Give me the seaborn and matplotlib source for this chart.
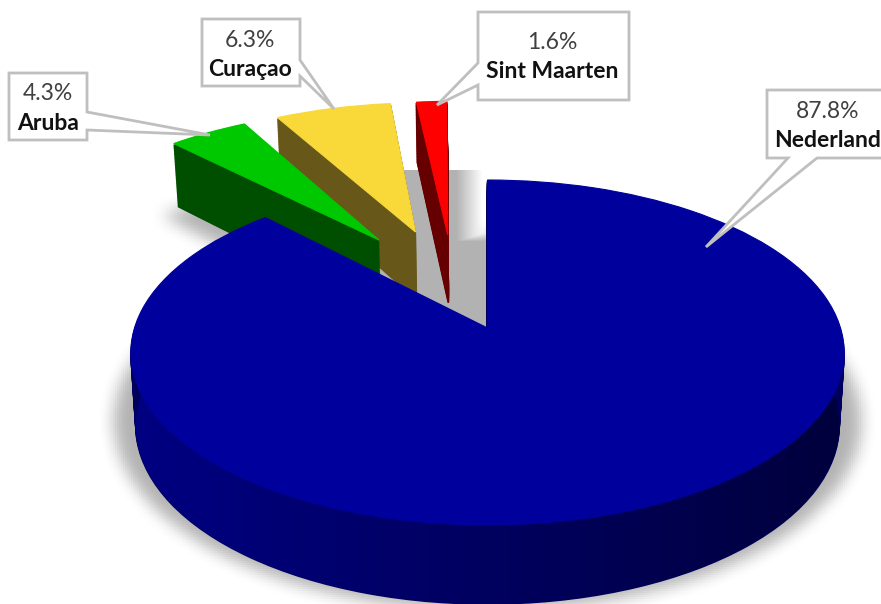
import numpy as np
import seaborn as sns
import matplotlib.pyplot as plt
from matplotlib.colors import LinearSegmentedColormap
from matplotlib.patches import PathPatch, Polygon
from matplotlib.path import Path
from matplotlib.transforms import Transform

# chart values
countries = ['Nederland', 'Aruba', 'Curaçao', 'Sint Maarten']
shares = [87.8, 4.3, 6.3, 1.6]
share_labels = ['87.8%', '4.3%', '6.3%', '1.6%']
top_colors = ['#00009c', '#00c800', '#f9d93a', '#ff0000']
wall_colors = ['#00005c', '#004f00', '#675819', '#660000']

# where each slice sits in the tilted pie, in pie units
apex = [(0, 0), (-0.332, 0.562), (-0.222, 0.618), (-0.122, 0.597)]
radii = [1, 1.025, 1.025, 1.06]
turn = [0, 0.7, 0.8, 1.1]
slice_z = [8, 6, 4, 2]

# callout boxes: left, right, top, bottom, pointer start, pointer end, tip
callouts = [
    (767, 895, 90, 158, (817, 158), (788, 158), (706, 247)),
    (9, 87, 73, 140, (87, 112), (87, 130), (210, 135)),
    (202, 300, 19, 86, (300, 60), (300, 76), (334, 109)),
    (478, 629, 12, 100, (478, 85), (478, 63), (437, 105)),
]
label_x = [828, 48, 250, 552]
share_base = [118, 100, 47, 49]
name_base = [147, 130, 76, 78]

sns.set_style('white')
plt.rcParams['font.family'] = ['Lato', 'DejaVu Sans']


class TiltedPie(Transform):
    # maps pie coordinates to picture pixels, t=0 top face, t=1 bottom face
    input_dims = 2
    output_dims = 2

    def __init__(self, t=0):
        super().__init__()
        self.t = t

    def transform_non_affine(self, values):
        x, y = np.asarray(values).T
        w = 1 + 0.142 * y
        px = 487.5 + 353 * x * (1 - 0.014 * self.t) / w
        py = 328 - 169 * y / w + (72 - 7 * y) * self.t
        return np.column_stack([px, py])


fig = plt.figure(figsize=(8.81, 6.04), dpi=100)
ax = fig.add_axes([0, 0, 1, 1])


def draw_pie(colors, t, z, lw=0.0, grow=1.0):
    wedges, _ = ax.pie(shares, colors=colors, startangle=90, counterclock=False,
                       wedgeprops=dict(linewidth=lw))
    tr = TiltedPie(t) + ax.transData
    for i, w in enumerate(wedges):
        w.set_center(apex[i])
        w.set_radius(radii[i] * grow)
        w.set_theta1(w.theta1 + turn[i])
        w.set_theta2(w.theta2 + turn[i])
        w.set_transform(tr)
        w.set_zorder(slice_z[i] + z)
        w.set_edgecolor(colors[i])
    return wedges


def box_blur(a, n):
    kernel = np.ones(n) / n
    for axis in (0, 1, 0, 1):
        a = np.apply_along_axis(np.convolve, axis, a, kernel, mode='same')
    return a


# soft shadow under the big slice and Aruba
gx, gy = np.meshgrid(np.arange(-40, 930, 2), np.arange(60, 680, 2))
grid = np.column_stack([gx.ravel(), gy.ravel()])
mask = np.zeros(gx.shape)
wedges = draw_pie(['black'] * 4, 0.9, 0, grow=1.06)
p = wedges[0].get_path()
inside = Path(TiltedPie(0.9).transform(p.vertices), p.codes).contains_points(grid)
mask[inside.reshape(gx.shape)] = 1
for w in wedges:
    w.remove()
wedges = draw_pie(['black'] * 4, 1, 0, grow=1.01)
p = wedges[1].get_path()
verts = TiltedPie(1).transform(p.vertices) + [-15, 10]
inside = Path(verts, p.codes).contains_points(grid)
mask[inside.reshape(gx.shape)] = 1
for w in wedges:
    w.remove()
mask = box_blur(mask, 9)
shade = np.zeros(mask.shape + (4,))
shade[..., 3] = 0.30 * mask
ax.imshow(shade, extent=(-41, 929, 679, 59), aspect='auto', zorder=0.5)

# grey shadow showing in the gap
yy, xx = np.mgrid[170:330, 370:486]
fade = np.clip((482 - xx) / 26, 0, 1)
fade = np.where(yy < 233, fade, np.maximum(fade, np.clip((yy - 233) / 8, 0, 1)))
gap = np.ones(xx.shape + (4,)) * 0.70
gap[..., 3] = fade
ax.imshow(gap, extent=(370, 486, 330, 170), aspect='auto', zorder=1)

# side walls, stacked from the bottom face up
for t in np.linspace(1, 0.03, 40):
    draw_pie(wall_colors, t, 0.5 - 0.4 * t, lw=1.2)

# shading on the side of the big slice
theta = np.radians(np.linspace(175, 365, 200))
ring = np.column_stack([np.cos(theta), np.sin(theta)])
edge = np.vstack([TiltedPie(1).transform(ring), TiltedPie(0).transform(ring)[::-1]])
side = LinearSegmentedColormap.from_list('side', ['#000082', '#00003c'])
im = ax.imshow(np.linspace(0, 1, 256).reshape(1, -1), cmap=side, aspect='auto',
               extent=(130, 850, 610, 340), zorder=9.2)
im.set_clip_path(PathPatch(Path(edge, closed=True), transform=ax.transData))

# top faces
draw_pie(top_colors, 0, 1.9, lw=0.8)

# callouts
for i, (l, r, t, b, p0, p1, tip) in enumerate(callouts):
    if p0[1] == b:
        pts = [(l, t), (r, t), (r, b), p0, tip, p1, (l, b)]
    elif p0[0] == r:
        pts = [(l, t), (r, t), p0, tip, p1, (r, b), (l, b)]
    else:
        pts = [(l, t), (r, t), (r, b), (l, b), p0, tip, p1]
    ax.add_patch(Polygon(pts, closed=True, facecolor='white', edgecolor='#bfbfbf',
                         linewidth=2.0, zorder=11, joinstyle='miter'))
    ax.text(label_x[i], share_base[i], share_labels[i], fontsize=16.5, color='#404040',
            ha='center', va='baseline', zorder=12)
    ax.text(label_x[i], name_base[i], countries[i], fontsize=16.5, fontweight='bold',
            color='#111111', ha='center', va='baseline', zorder=12)

ax.set_aspect('auto')
ax.set_xlim(0, 881)
ax.set_ylim(604, 0)
ax.set_axis_off()

plt.savefig('out.png', dpi=100)
